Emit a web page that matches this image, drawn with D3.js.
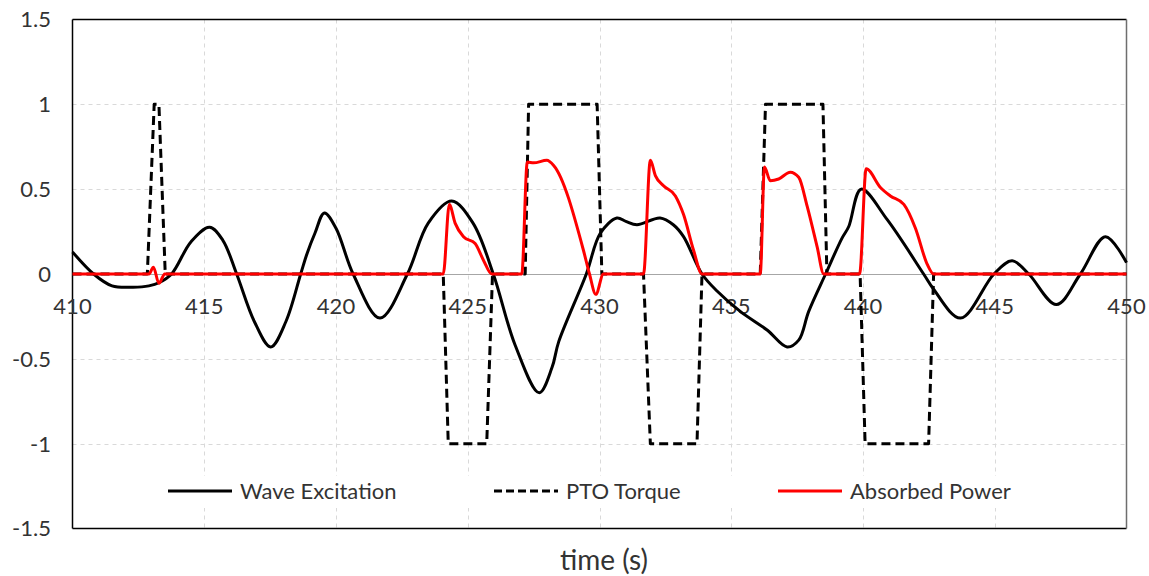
<!DOCTYPE html>
<html>
<head>
    <title>Wave Excitation / PTO Torque / Absorbed Power</title>
    <script src="https://d3js.org/d3.v7.min.js"></script>
    <style>
        body { margin: 0; background: #fff; }
        text { font-family: Lato, "Noto Sans", sans-serif; fill: #333; }
        .grid line { stroke: #d9d9d9; stroke-width: 1px; stroke-dasharray: 4,4; }
    </style>
</head>
<body>
<svg width="1149" height="576"></svg>
<script>
// time axis (s)
const waveT = [410, 410.8, 411.5, 412.3, 412.9, 413.3, 413.76, 414.5, 415.2, 415.7, 416.23, 416.9, 417.52, 418.1, 418.66, 418.9, 419.2, 419.56, 420.0, 420.65, 421.67, 422.71, 423.5, 424.39, 425.2, 425.97, 426.8, 427.71, 428.2, 428.45, 429.5, 430.03, 430.66, 431.0, 431.42, 432.3, 432.8, 433.19, 433.89, 434.46, 435.34, 436.36, 437.12, 437.56, 437.94, 438.58, 439.2, 439.46, 439.93, 440.92, 442.3, 442.68, 443.7, 444.97, 445.66, 446.29, 447.34, 448.25, 449.2, 450];
const waveV = [0.13, 0, -0.07, -0.078, -0.07, -0.05, 0, 0.19, 0.275, 0.2, 0, -0.28, -0.43, -0.28, 0, 0.12, 0.24, 0.36, 0.27, 0, -0.26, 0, 0.3, 0.43, 0.3, 0, -0.42, -0.70, -0.55, -0.40, 0, 0.24, 0.33, 0.31, 0.29, 0.33, 0.29, 0.22, 0, -0.10, -0.22, -0.33, -0.43, -0.39, -0.22, 0, 0.21, 0.28, 0.50, 0.32, 0, -0.09, -0.26, 0, 0.078, 0, -0.18, 0, 0.22, 0.067];

const torqueT = [410, 412.84, 413.1, 413.28, 413.52, 424.07, 424.26, 425.72, 425.94, 427.18, 427.31, 429.91, 430.09, 431.67, 431.93, 433.70, 433.89, 436.10, 436.30, 438.48, 438.63, 439.89, 440.08, 442.49, 442.68, 450];
const torqueV = [0, 0, 1, 1, 0, 0, -1, -1, 0, 0, 1, 1, 0, 0, -1, -1, 0, 0, 1, 1, 0, 0, -1, -1, 0, 0];

const powerT = [410, 412.9, 413.07, 413.28, 413.5, 424.07, 424.3, 424.52, 424.84, 425.28, 425.6, 425.91, 427.05, 427.26, 427.5, 428.0, 428.26, 429.39, 429.62, 429.86, 430.15, 431.67, 431.93, 432.12, 432.43, 432.88, 433.19, 433.57, 433.89, 436.1, 436.26, 436.48, 436.8, 437.24, 437.56, 437.88, 438.26, 438.51, 439.87, 440.12, 440.66, 441.04, 441.55, 441.99, 442.43, 442.68, 450];
const powerV = [0, 0, 0.04, -0.055, 0, 0, 0.41, 0.30, 0.22, 0.18, 0.08, 0, 0, 0.66, 0.655, 0.67, 0.64, 0.14, 0, -0.12, 0, 0, 0.67, 0.58, 0.52, 0.46, 0.35, 0.14, 0, 0, 0.63, 0.55, 0.56, 0.60, 0.57, 0.40, 0.16, 0, 0, 0.62, 0.51, 0.46, 0.41, 0.27, 0.06, 0, 0];

const xTicks = [410, 415, 420, 425, 430, 435, 440, 445, 450];
const yTicks = [-1.5, -1, -0.5, 0, 0.5, 1, 1.5];
const seriesNames = ["Wave Excitation", "PTO Torque", "Absorbed Power"];

const svg = d3.select("svg");
const pLeft = 72.5, pRight = 1126.5, pTop = 19.5, pBottom = 528.5;

const x = d3.scaleLinear().domain([410, 450]).range([pLeft, pRight]);
const y = d3.scaleLinear().domain([-1.5, 1.5]).range([pBottom, pTop]);

svg.append("rect").attr("width", 1149).attr("height", 576).attr("fill", "#fff");

// gridlines
const grid = svg.append("g").attr("class", "grid");
grid.selectAll(".gx").data(xTicks.slice(1, -1)).enter().append("line")
    .attr("x1", d => Math.round(x(d)) + 0.5).attr("x2", d => Math.round(x(d)) + 0.5)
    .attr("y1", pTop).attr("y2", pBottom);
grid.selectAll(".gy").data(yTicks.filter(d => d !== 0 && d !== -1.5 && d !== 1.5)).enter().append("line")
    .attr("y1", d => Math.round(y(d)) + 0.5).attr("y2", d => Math.round(y(d)) + 0.5)
    .attr("x1", pLeft).attr("x2", pRight);

// zero line
svg.append("line")
    .attr("x1", pLeft).attr("x2", pRight)
    .attr("y1", Math.round(y(0)) + 0.5).attr("y2", Math.round(y(0)) + 0.5)
    .attr("stroke", "#a6a6a6").attr("stroke-width", 1);

// frame
svg.append("line").attr("x1", pLeft).attr("x2", pLeft).attr("y1", pTop).attr("y2", pBottom).attr("stroke", "#000").attr("stroke-width", 1.5);
svg.append("line").attr("x1", pLeft).attr("x2", pRight).attr("y1", pTop).attr("y2", pTop).attr("stroke", "#000").attr("stroke-width", 1.5);
svg.append("line").attr("x1", pLeft).attr("x2", pRight).attr("y1", pBottom).attr("y2", pBottom).attr("stroke", "#000").attr("stroke-width", 1.5);
svg.append("line").attr("x1", pRight).attr("x2", pRight).attr("y1", pTop).attr("y2", pBottom).attr("stroke", "#6e6e6e").attr("stroke-width", 1.5);

// y labels
svg.append("g").selectAll("text").data(yTicks).enter().append("text")
    .attr("x", 51).attr("y", d => y(d)).attr("dy", "0.36em")
    .attr("text-anchor", "end").attr("font-size", 22)
    .text(d => d);

// x labels (sit under the zero line)
svg.append("g").selectAll("text").data(xTicks).enter().append("text")
    .attr("x", d => x(d)).attr("y", y(0) + 40)
    .attr("text-anchor", "middle").attr("font-size", 22)
    .text(d => d);

svg.append("text").attr("x", 604).attr("y", 570)
    .attr("text-anchor", "middle").attr("font-size", 28).text("time (s)");

// legend box
const legend = svg.append("g");
legend.append("rect").attr("x", 150).attr("y", 476).attr("width", 890).attr("height", 32).attr("fill", "#fff");

// series
const zip = (t, v) => t.map((d, i) => [d, v[i]]);

const smooth = d3.line().x(d => x(d[0])).y(d => y(d[1])).curve(d3.curveCatmullRom.alpha(0.5));
const straight = d3.line().x(d => x(d[0])).y(d => y(d[1]));
const mono = d3.line().x(d => x(d[0])).y(d => y(d[1])).curve(d3.curveMonotoneX);

svg.append("path").datum(zip(waveT, waveV)).attr("d", smooth)
    .attr("fill", "none").attr("stroke", "#000").attr("stroke-width", 3);
svg.append("path").datum(zip(torqueT, torqueV)).attr("d", straight)
    .attr("fill", "none").attr("stroke", "#000").attr("stroke-width", 3)
    .attr("stroke-dasharray", "9,5").attr("stroke-linejoin", "round");
svg.append("path").datum(zip(powerT, powerV)).attr("d", mono)
    .attr("fill", "none").attr("stroke", "#ff0000").attr("stroke-width", 3);

// legend items
const legX = [168, 494, 778];
const legStyle = [
    { stroke: "#000", dash: null },
    { stroke: "#000", dash: "8,4" },
    { stroke: "#ff0000", dash: null }
];
seriesNames.forEach((name, i) => {
    legend.append("line")
        .attr("x1", legX[i]).attr("x2", legX[i] + 64)
        .attr("y1", 491).attr("y2", 491)
        .attr("stroke", legStyle[i].stroke).attr("stroke-width", 3)
        .attr("stroke-dasharray", legStyle[i].dash);
    legend.append("text")
        .attr("x", legX[i] + 72).attr("y", 491).attr("dy", "0.36em")
        .attr("font-size", 22).text(name);
});
</script>
</body>
</html>
